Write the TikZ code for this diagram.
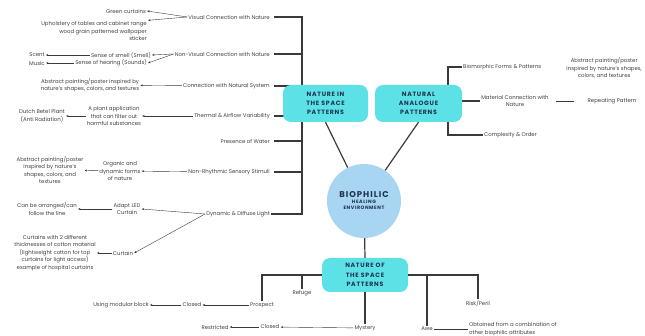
\documentclass[tikz,border=0pt]{standalone}
\usepackage{fontspec}
\setmainfont{Poppins}
\newfontfamily\headfont[LetterSpace=12]{Poppins}
\usetikzlibrary{positioning,arrows.meta,calc}
\definecolor{boxcyan}{HTML}{5CE1E6}
\definecolor{hubblue}{HTML}{A8D5F2}
\definecolor{navy}{HTML}{1D3350}
\definecolor{linegray}{HTML}{3A3A3A}
\tikzstyle{arrow} = [-{Stealth[length=2.5pt,width=2pt]}, line width=0.4pt, linegray]
\tikzstyle{link} = [line width=0.5pt, linegray]
\tikzstyle{bracket} = [line width=1.2pt, linegray]
\tikzstyle{txt} = [inner sep=1pt, font=\fontsize{5.4}{7.4}\selectfont, text=black!75]
\tikzstyle{groupbox} = [rounded corners=8pt, fill=boxcyan, align=center, text=navy, font=\headfont\bfseries\fontsize{6.2}{9.2}\selectfont]

\begin{document}
\begin{tikzpicture}[x=1pt, y=-1pt, node distance=6pt]
    \useasboundingbox (0,0) rectangle (645,336);

    % nature in the space: pattern labels
    \node[txt, anchor=east] (vis) at (271,17) {Visual Connection with Nature};
    \node[txt, anchor=east] (nonvis) at (271,54) {Non-Visual Connection with Nature};
    \node[txt, anchor=east] (natsys) at (271,86) {Connection with Natural System};
    \node[txt, anchor=east] (therm) at (271,116) {Thermal \& Airflow Variability};
    \node[txt, anchor=east] (water) at (271,141) {Presence of Water};
    \node[txt, anchor=east] (rhythm) at (271,172) {Non-Rhythmic Sensory Stimuli};
    \node[txt, anchor=east] (light) at (271,214) {Dynamic \& Diffuse Light};
    \coordinate (ltop) at (302,17);
    \coordinate (lbot) at (302,214);
    \draw[bracket, shorten <=3pt] (vis.east) -- (ltop) -- (lbot) -- (light.east);
    \foreach \n in {nonvis,natsys,therm,water,rhythm}
        \draw[bracket, shorten <=3pt] (\n.east) -- (\n.east -| ltop);

    % leaves
    \node[txt] (curtains) at (126,11) {Green curtains};
    \node[txt, align=right, anchor=east] (uphol) at (148,31) {Upholstery of tables and cabinet range\\wood grain patterned wallpaper\\sticker};
    \draw[arrow] (vis.west) -- (curtains.east);
    \draw[arrow] (vis.west) -- (uphol.north east);

    \node[txt, anchor=east] (smell) at (152,55) {Sense of smell (Smell)};
    \node[txt, anchor=east] (hearing) at (148,63) {Sense of hearing (Sounds)};
    \node[txt] (scent) at (37,55) {Scent};
    \node[txt] (music) at (37,63) {Music};
    \draw[arrow] (nonvis.west) -- (smell.east);
    \draw[arrow] (nonvis.west) -- (hearing.east);
    \draw[arrow] (smell) -- (scent);
    \draw[arrow] (hearing) -- (music);

    \node[txt, align=center] (abspaint) at (90,85) {Abstract painting/poster inspired by\\nature's shapes, colors, and textures};
    \draw[arrow] (natsys) -- (abspaint);

    \node[txt, align=center] (plant) at (114,116) {A plant application\\that can filter out\\harmful substances};
    \node[txt, align=center] (betel) at (42,116) {Dutch Betel Plant\\(Anti Radiation)};
    \draw[arrow] (therm) -- (plant);
    \draw[arrow] (plant) -- (betel);

    \node[txt, align=center] (organic) at (120,171) {Organic and\\dynamic forms\\of nature};
    \node[txt, align=center] (abspaintb) at (50,170) {Abstract painting/poster\\inspired by nature's\\shapes, colors, and\\textures};
    \draw[arrow] (rhythm) -- (organic);
    \draw[arrow] (organic) -- (abspaintb);

    \node[txt, align=center] (led) at (127,209) {Adapt LED\\Curtain};
    \node[txt, align=center] (arrange) at (47,209) {Can be arranged/can\\follow the line};
    \node[txt] (curtain) at (123,253) {Curtain};
    \node[txt, align=center] (thick) at (55,253) {Curtains with 2 different\\thicknesses of cotton material\\(lightweight cotton for top\\curtains for light access)\\example of hospital curtains};
    \draw[arrow] (light.west) -- (led.east);
    \draw[arrow] (light.west) -- (curtain.east);
    \draw[arrow] (led) -- (arrange);
    \draw[arrow] (curtain) -- (thick);

    % natural analogue
    \coordinate (rtop) at (448,67);
    \coordinate (rbot) at (448,135);
    \node[txt, anchor=west] (biomorph) at (462,67) {Biomorphic Forms \& Patterns};
    \node[txt, align=center] (material) at (515,101) {Material Connection with\\Nature};
    \node[txt, anchor=west] (complex) at (483,135) {Complexity \& Order};
    \draw[bracket] (biomorph.west) -- (rtop) -- (rbot) -- (complex.west);
    \draw[bracket] (material.west) -- (material.west -| rtop);
    \node[txt, align=center, anchor=east] (abspaintc) at (643,68) {Abstract painting/poster\\inspired by nature's shapes,\\colors, and textures};
    \node[txt] (repeat) at (612,101) {Repeating Pattern};
    \draw[link, shorten <=6pt, shorten >=12pt] (material.east) -- (repeat.west);

    % nature of the space
    \node[txt] (prospect) at (262,305) {Prospect};
    \node[txt] (refuge) at (302,293) {Refuge};
    \node[txt] (closeda) at (192,305) {Closed};
    \node[txt] (modular) at (121,305) {Using modular block};
    \node[txt] (mystery) at (365,328) {Mystery};
    \node[txt] (closedb) at (270,327) {Closed};
    \node[txt] (restrict) at (215,327) {Restricted};
    \node[txt] (risk) at (478,303) {Risk/Peril};
    \node[txt] (awe) at (427,329) {Awe};
    \node[txt, align=left, anchor=west] (obtained) at (468,329) {Obtained from a combination of\\other biophilic attributes};

    % groups and hub
    \node[groupbox, minimum width=85pt, minimum height=37pt] (nis) at (325.5,103.5) {NATURE IN\\THE SPACE\\PATTERNS};
    \node[groupbox, minimum width=87pt, minimum height=37pt] (nap) at (418.5,103.5) {NATURAL\\ANALOGUE\\PATTERNS};
    \node[groupbox, minimum width=86pt, minimum height=34pt] (nos) at (365,275) {NATURE OF\\THE SPACE\\PATTERNS};
    \node[circle, fill=hubblue, minimum size=74pt, inner sep=0pt, align=center, text=navy, font=\headfont\bfseries\fontsize{4.8}{6}\selectfont] (hub) at (364,201) {{\fontsize{8.4}{8}\selectfont BIOPHILIC}\\HEALING\\ENVIRONMENT};

    \draw[bracket] (nis.south) -- (hub);
    \draw[bracket] (nap.south) -- (hub);
    \draw[bracket] (hub) -- (nos.north);
    \draw[bracket] (nos.west) -| (prospect.north);
    \draw[bracket] (refuge.north |- nos.west) -- (refuge.north);
    \draw[bracket] (nos.south) -- (mystery.north);
    \draw[bracket] (nos.east) -| (risk.north);
    \draw[bracket] (awe.north |- nos.east) -- (awe.north);
    \draw[arrow] (prospect) -- (closeda);
    \draw[arrow] (closeda) -- (modular);
    \draw[arrow] (mystery) -- (closedb);
    \draw[arrow] (closedb) -- (restrict);
    \draw[link] (awe) -- (obtained);
\end{tikzpicture}
\end{document}
